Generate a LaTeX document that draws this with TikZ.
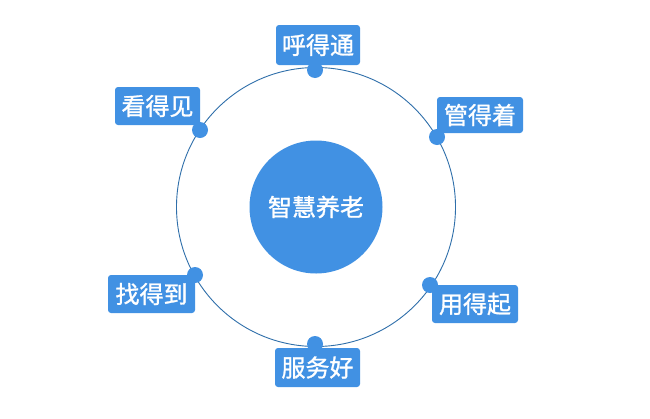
\documentclass[tikz,border=0pt]{standalone}
\usepackage{fontspec}
\newfontfamily\cjk[FakeBold=1.2]{Noto Sans CJK SC}
\definecolor{boxblue}{HTML}{4191E3}
\definecolor{lineblue}{HTML}{2F6FAA}
\begin{document}
\begin{tikzpicture}[x=1pt,y=-1pt,
  lbl/.style={fill=boxblue, rounded corners=3pt, text=white, font=\cjk\fontsize{24}{24}\selectfont, inner sep=0pt, minimum height=38pt, minimum width=85pt},
  dotn/.style={circle, fill=boxblue, minimum size=16pt, inner sep=0pt}]
\useasboundingbox (0,0) rectangle (650,418);
\fill[white] (0,0) rectangle (650,418);
\coordinate (c) at (316,207);
\draw[lineblue, line width=0.9pt] (c) circle (139.5);
\node[circle, fill=boxblue, minimum size=133pt, inner sep=0pt, text=white, font=\cjk\fontsize{24}{24}\selectfont] (center) at (c) {智慧养老};
\node[dotn] (d1) at (315,70) {};
\node[dotn] (d2) at (200,130) {};
\node[dotn] (d3) at (437,137) {};
\node[dotn] (d4) at (430,285) {};
\node[dotn] (d5) at (315,344) {};
\node[dotn] (d6) at (195,275) {};
\node[lbl, minimum width=84pt, minimum height=40pt] (b1) at (318,45) {呼得通};
\node[lbl] (b2) at (157.5,106) {看得见};
\node[lbl, minimum width=86pt, minimum height=36pt] (b3) at (480,115) {管得着};
\node[lbl, minimum width=86pt] (b4) at (475,304) {用得起};
\node[lbl, minimum height=39pt] (b5) at (317.5,367.5) {服务好};
\node[lbl, minimum width=87pt] (b6) at (151.5,294) {找得到};
\end{tikzpicture}
\end{document}
